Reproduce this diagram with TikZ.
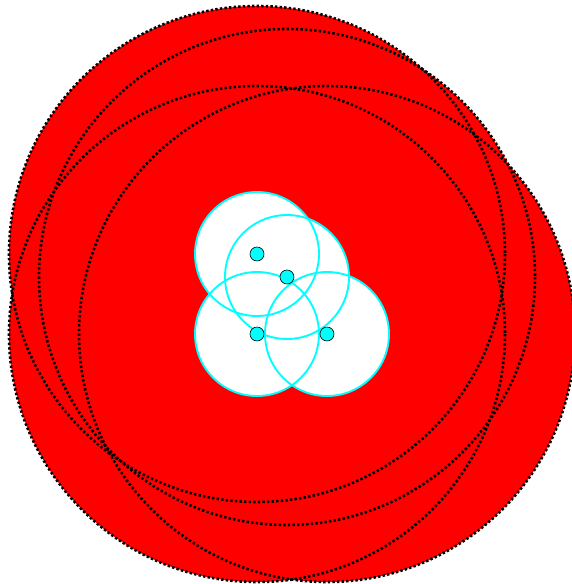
\documentclass[tikz,border=0pt]{standalone}
\begin{document}
\begin{tikzpicture}[x=1pt,y=-1pt,
  bigedge/.style={draw=black,line width=2.6pt,dash pattern=on 2.4pt off 2.2pt},
  smalledge/.style={draw=aqua,line width=1.9pt},
  centerdot/.style={circle,fill=aqua,draw=black,line width=0.6pt,minimum size=14pt,inner sep=0pt}]
\definecolor{aqua}{RGB}{0,255,255}
\definecolor{red}{RGB}{255,0,0}
\useasboundingbox (0,0) rectangle (571,584);
\coordinate (a) at (257,254);
\coordinate (b) at (287,277);
\coordinate (c) at (257,334);
\coordinate (d) at (327,334);
\foreach \p in {a,b,c,d} \fill[red] (\p) circle (248);
\foreach \p in {a,b,c,d} \draw[bigedge] (\p) circle (248);
\foreach \p in {a,b,c,d} \fill[white] (\p) circle (62);
\foreach \p in {a,b,c,d} \draw[smalledge] (\p) circle (62);
\node[centerdot] (na) at (a) {};
\node[centerdot] (nb) at (b) {};
\node[centerdot] (nc) at (c) {};
\node[centerdot] (nd) at (d) {};
\end{tikzpicture}
\end{document}
